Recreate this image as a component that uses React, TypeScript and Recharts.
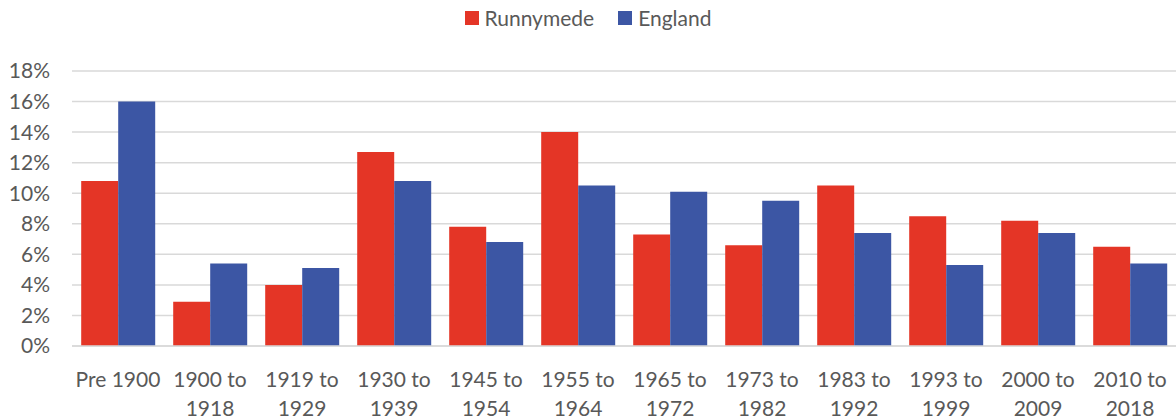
import React from 'react';
import { BarChart, Bar, XAxis, YAxis, CartesianGrid, Legend } from 'recharts';

const periods = [
  'Pre 1900', '1900 to 1918', '1919 to 1929', '1930 to 1939', '1945 to 1954', '1955 to 1964',
  '1965 to 1972', '1973 to 1982', '1983 to 1992', '1993 to 1999', '2000 to 2009', '2010 to 2018',
];
const runnymede = [0.108, 0.029, 0.040, 0.127, 0.078, 0.140, 0.073, 0.066, 0.105, 0.085, 0.082, 0.065];
const england = [0.160, 0.054, 0.051, 0.108, 0.068, 0.105, 0.101, 0.095, 0.074, 0.053, 0.074, 0.054];
const yTicks = [0, 0.02, 0.04, 0.06, 0.08, 0.1, 0.12, 0.14, 0.16, 0.18];

const RED = '#E43526';
const BLUE = '#3C56A4';
const TEXT = '#595959';
const FONT = 'Lato, "Open Sans", sans-serif';

const data = periods.map((p, i) => ({ period: p, Runnymede: runnymede[i], England: england[i] }));

function PeriodTick(props: any) {
  const { x, y, payload } = props;
  const label: string = payload.value;
  const idx = label.indexOf(' to ');
  const lines = idx >= 0 ? [label.slice(0, idx + 3), label.slice(idx + 4)] : [label];
  return (
    <text x={x} y={y} textAnchor="middle" fill={TEXT} fontSize={21} fontFamily={FONT}>
      {lines.map((l, i) => (
        <tspan key={i} x={x} dy={i === 0 ? 39 : 29}>{l}</tspan>
      ))}
    </text>
  );
}

function LegendContent() {
  const items = [
    { name: 'Runnymede', color: RED },
    { name: 'England', color: BLUE },
  ];
  return (
    <div style={{ height: 36, display: 'flex', justifyContent: 'center', alignItems: 'flex-start', fontFamily: FONT, fontSize: 21, color: TEXT }}>
      {items.map((it) => (
        <div key={it.name} style={{ display: 'flex', alignItems: 'center', margin: '5px 12px 0 12px' }}>
          <span style={{ width: 14, height: 14, background: it.color, display: 'inline-block', marginRight: 6 }} />
          <span>{it.name}</span>
        </div>
      ))}
    </div>
  );
}

export default function App() {
  return (
    <div style={{ position: 'absolute', left: 0, top: 0, width: 1176, height: 419, background: '#fff' }}>
      <BarChart
        width={1176}
        height={419}
        data={data}
        margin={{ top: 35, right: 0, bottom: 0, left: 0 }}
        barCategoryGap="10%"
        barGap={0}
      >
        <Legend verticalAlign="top" align="center" content={<LegendContent />} wrapperStyle={{ top: 0 }} />
        <CartesianGrid vertical={false} stroke="#d9d9d9" strokeWidth={1.5} />
        <XAxis
          dataKey="period"
          interval={0}
          height={73}
          tickLine={false}
          tickSize={0}
          axisLine={{ stroke: '#d9d9d9', strokeWidth: 1.5 }}
          tick={<PeriodTick />}
        />
        <YAxis
          width={72}
          domain={[0, 0.18]}
          ticks={yTicks}
          axisLine={false}
          tickLine={false}
          tickSize={0}
          tickMargin={22}
          tickFormatter={(v: number) => `${Math.round(v * 100)}%`}
          tick={{ fill: TEXT, fontSize: 21, fontFamily: FONT }}
        />
        <Bar dataKey="Runnymede" fill={RED} isAnimationActive={false} />
        <Bar dataKey="England" fill={BLUE} isAnimationActive={false} />
      </BarChart>
    </div>
  );
}
